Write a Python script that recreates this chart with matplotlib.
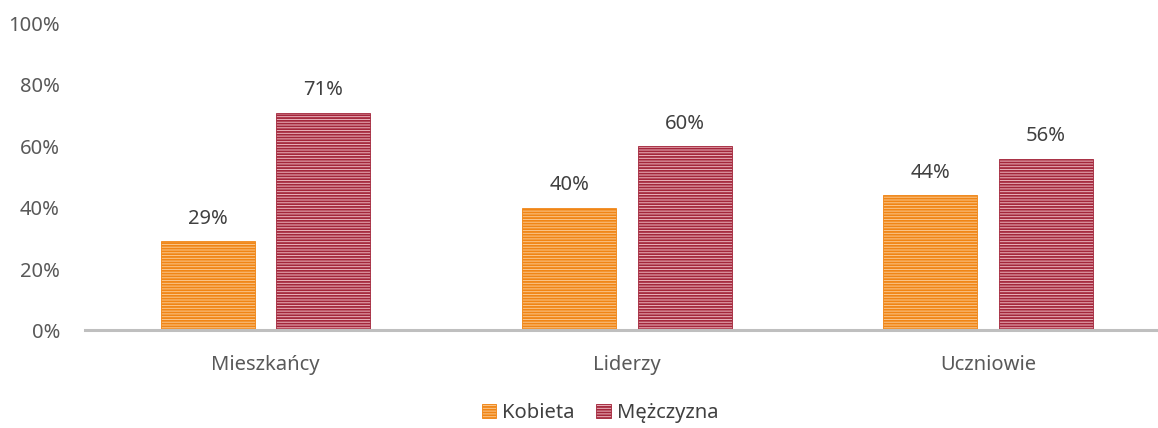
import matplotlib.pyplot as plt
import matplotlib.patches as mpatches
import numpy as np

categories = ['Mieszkańcy', 'Liderzy', 'Uczniowie']
kobieta = [29, 40, 44]
mezczyzna = [71, 60, 56]
series_names = ['Kobieta', 'Mężczyzna']
ytick_labels = ['0%', '20%', '40%', '60%', '80%', '100%']

plt.rcParams['font.family'] = ['Noto Sans', 'DejaVu Sans']
plt.rcParams['hatch.linewidth'] = 1.3

orange_dark, orange_light = '#F08515', '#FBC88E'
red_dark, red_light = '#A3263B', '#EDB7C0'
fs = 14.5

fig = plt.figure(figsize=(11.58, 4.28), dpi=100)
ax = fig.add_axes([0.0734, 0.228, 0.9266, 0.717])

x = np.arange(len(categories))
w = 0.26
off = 0.16
b1 = ax.bar(x - off, kobieta, w, color=orange_light, edgecolor=orange_dark,
            hatch='------', linewidth=0.6, zorder=2)
b2 = ax.bar(x + off, mezczyzna, w, color=red_light, edgecolor=red_dark,
            hatch='------', linewidth=0.6, zorder=2)

for bars, vals in ((b1, kobieta), (b2, mezczyzna)):
    for rect, v in zip(bars, vals):
        ax.annotate(f'{v}%', (rect.get_x() + rect.get_width() / 2, v),
                    xytext=(0, 9), textcoords='offset points',
                    ha='center', va='bottom', fontsize=fs, color='#404040')

ax.set_xlim(-0.5, 2.47)
ax.set_ylim(0, 100)
ax.set_yticks(np.arange(0, 101, 20))
ax.set_yticklabels(ytick_labels)
ax.set_xticks(x)
ax.set_xticklabels(categories)
ax.tick_params(axis='both', length=0, labelsize=fs, colors='#595959')
ax.tick_params(axis='x', pad=17.5)
ax.tick_params(axis='y', pad=18)

for s in ['top', 'right', 'left']:
    ax.spines[s].set_visible(False)
ax.spines['bottom'].set_color('#BFBFBF')
ax.spines['bottom'].set_linewidth(2.2)
ax.spines['bottom'].set_zorder(3)

handles = [mpatches.Patch(facecolor=orange_light, edgecolor=orange_dark, hatch='------', linewidth=0.6),
           mpatches.Patch(facecolor=red_light, edgecolor=red_dark, hatch='------', linewidth=0.6)]
leg = fig.legend(handles, series_names, loc='center', bbox_to_anchor=(0.518, 0.035),
                 ncol=2, frameon=False, fontsize=fs, handlelength=0.7, handleheight=0.7,
                 handletextpad=0.3, columnspacing=1.1)
for t in leg.get_texts():
    t.set_color('#404040')

fig.savefig('out.png', dpi=100)
